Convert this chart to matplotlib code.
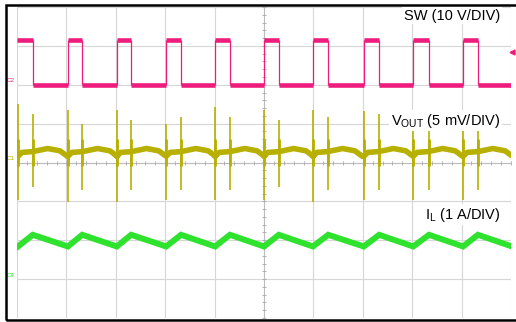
import numpy as np
import matplotlib.pyplot as plt
from matplotlib.patches import Rectangle

plt.rcParams['font.family'] = ['Liberation Sans', 'DejaVu Sans']
plt.rcParams['mathtext.default'] = 'regular'

# time in screen divisions (10 div across the screen)
sw_rise = [0.02, 1.03, 2.02, 3.02, 4.01, 5.00, 5.99, 7.02, 8.02, 9.03]
sw_fall = [0.32, 1.32, 2.31, 3.32, 4.31, 5.30, 6.30, 7.33, 8.34, 9.33]
sw_high = 11.6   # V
sw_low = 0.0     # V

# output ripple over one period, starting at the rising edge (div, mV)
vout_phase = [0.0, 0.08, 0.30, 0.60, 0.85, 1.0]
vout_ripple = [0.8, 1.3, 1.4, 1.8, 1.5, 0.8]
# spikes at the switching edges (mV)
spike_rise_top = [7.5, 6.8, 6.8, 4.9, 7.1, 6.8, 6.8, 6.6, 6.8, 6.6]
spike_rise_bot = [-4.8, -5.1, -5.1, -4.8, -4.8, -4.8, -5.1, -4.8, -4.8, -4.8]
spike_fall_top = [6.2, 4.9, 5.5, 5.9, 5.9, 5.5, 5.9, 6.2, 5.8, 5.8]
spike_fall_bot = [-3.2, -3.5, -3.5, -3.5, -3.5, -3.2, -3.5, -3.5, -3.5, -3.5]

# inductor current (A)
il_valley = 0.84
il_peak = 1.14

# channel offsets (div) and scales
SW_POS, SW_SCALE = 2.0, 10.0      # 10 V/div
VOUT_POS, VOUT_SCALE = 0.0, 5.0   # 5 mV/div
IL_POS, IL_SCALE = -3.0, 1.0      # 1 A/div

C_SW = '#ee1c7c'
C_VOUT = '#b8b000'
C_IL = '#2ee22e'
C_GRID = '#d6d6d6'


def main():
    fig = plt.figure(figsize=(5.16, 3.22), dpi=100)
    fig.patch.set_facecolor('white')

    # black screen frame (right side runs off the picture)
    fig.add_artist(Rectangle((6 / 516, 1 - 320 / 322), 1.0, 315 / 322,
                             transform=fig.transFigure, fill=False,
                             lw=1.8, ec='black'))

    ax = fig.add_axes([17 / 516, 4 / 322, 494 / 516, 311 / 322])
    ax.set_xlim(0, 10)
    ax.set_ylim(-4, 4)
    for s in ax.spines.values():
        s.set_visible(False)
    ax.set_xticks([])
    ax.set_yticks([])

    # graticule
    for x in range(0, 11):
        ax.axvline(x, color=C_GRID, lw=0.8, zorder=0)
    for y in range(-4, 5):
        ax.axhline(y, color=C_GRID, lw=0.8, zorder=0)
    ax.axvline(5, color='#bdbdbd', lw=0.8, zorder=0)
    ax.axhline(0, color='#bdbdbd', lw=0.8, zorder=0)
    minor_x = np.arange(0, 10.01, 0.2)
    minor_y = np.arange(-4, 4.01, 0.2)
    ax.plot(minor_x, np.zeros_like(minor_x), '|', color='#a8a8a8', ms=3, mew=0.6, zorder=0)
    ax.plot(np.full_like(minor_y, 5.0), minor_y, '_', color='#a8a8a8', ms=3, mew=0.6, zorder=0)

    # SW node
    hi = SW_POS + sw_high / SW_SCALE
    lo = SW_POS + sw_low / SW_SCALE
    n = len(sw_rise)
    ax.hlines(np.full(n, hi), [0] + sw_rise[1:], sw_fall, color=C_SW, lw=3.3)
    next_rise = sw_rise[1:] + [10.0]
    ax.hlines(np.full(n, lo), sw_fall, next_rise, color=C_SW, lw=3.3)
    ax.vlines(sw_rise[1:] + sw_fall, lo, hi, color=C_SW, lw=0.9)
    ax.plot([10.03], [SW_POS + 0.83], marker='<', color=C_SW, ms=3.5, clip_on=False)

    # Vout
    t_v = np.concatenate([r + np.array(vout_phase) for r in [-0.98] + sw_rise])
    v_v = np.tile(vout_ripple, n + 1)
    ax.plot(t_v, VOUT_POS + v_v / VOUT_SCALE, color=C_VOUT, lw=4.0, solid_joinstyle='round')
    ax.vlines(sw_rise, VOUT_POS + np.array(spike_rise_bot) / VOUT_SCALE,
              VOUT_POS + np.array(spike_rise_top) / VOUT_SCALE, color=C_VOUT, lw=1.2)
    ax.vlines(sw_fall, VOUT_POS + np.array(spike_fall_bot) / VOUT_SCALE,
              VOUT_POS + np.array(spike_fall_top) / VOUT_SCALE, color=C_VOUT, lw=1.2)
    ax.vlines(sw_rise + sw_fall, VOUT_POS - 0.1, VOUT_POS + 0.6, color=C_VOUT, lw=2.0)

    # inductor current
    t_i, v_i = [], []
    for r, f in zip(sw_rise, sw_fall):
        t_i += [r, f]
        v_i += [il_valley, il_peak]
    t_i.append(10.02)
    v_i.append(il_valley)
    ax.plot(t_i, IL_POS + np.array(v_i) / IL_SCALE, color=C_IL, lw=4.3,
            solid_joinstyle='miter')

    # channel markers
    ax.text(-0.13, SW_POS + 0.1, 'C2', color=C_SW, fontsize=4.5, ha='center',
            va='center', clip_on=False)
    ax.text(-0.13, VOUT_POS + 0.1, 'C1', color=C_VOUT, fontsize=4.5, ha='center',
            va='center', clip_on=False)
    ax.text(-0.13, IL_POS + 0.1, 'C4', color=C_IL, fontsize=4.5, ha='center',
            va='center', clip_on=False)

    box = dict(facecolor='white', edgecolor='none', pad=1.0)
    ax.text(9.78, 3.78, 'SW (10 V/DIV)', ha='right', va='center', fontsize=10.5, bbox=box)
    ax.text(9.78, 1.07, r'$\mathregular{V_{OUT}}$ (5 mV/DIV)', ha='right', va='center',
            fontsize=10.5, bbox=box)
    ax.text(9.78, -1.34, r'$\mathregular{I_{L}}$ (1 A/DIV)', ha='right', va='center',
            fontsize=10.5, bbox=box)

    fig.savefig('out.png', dpi=100)


main()
